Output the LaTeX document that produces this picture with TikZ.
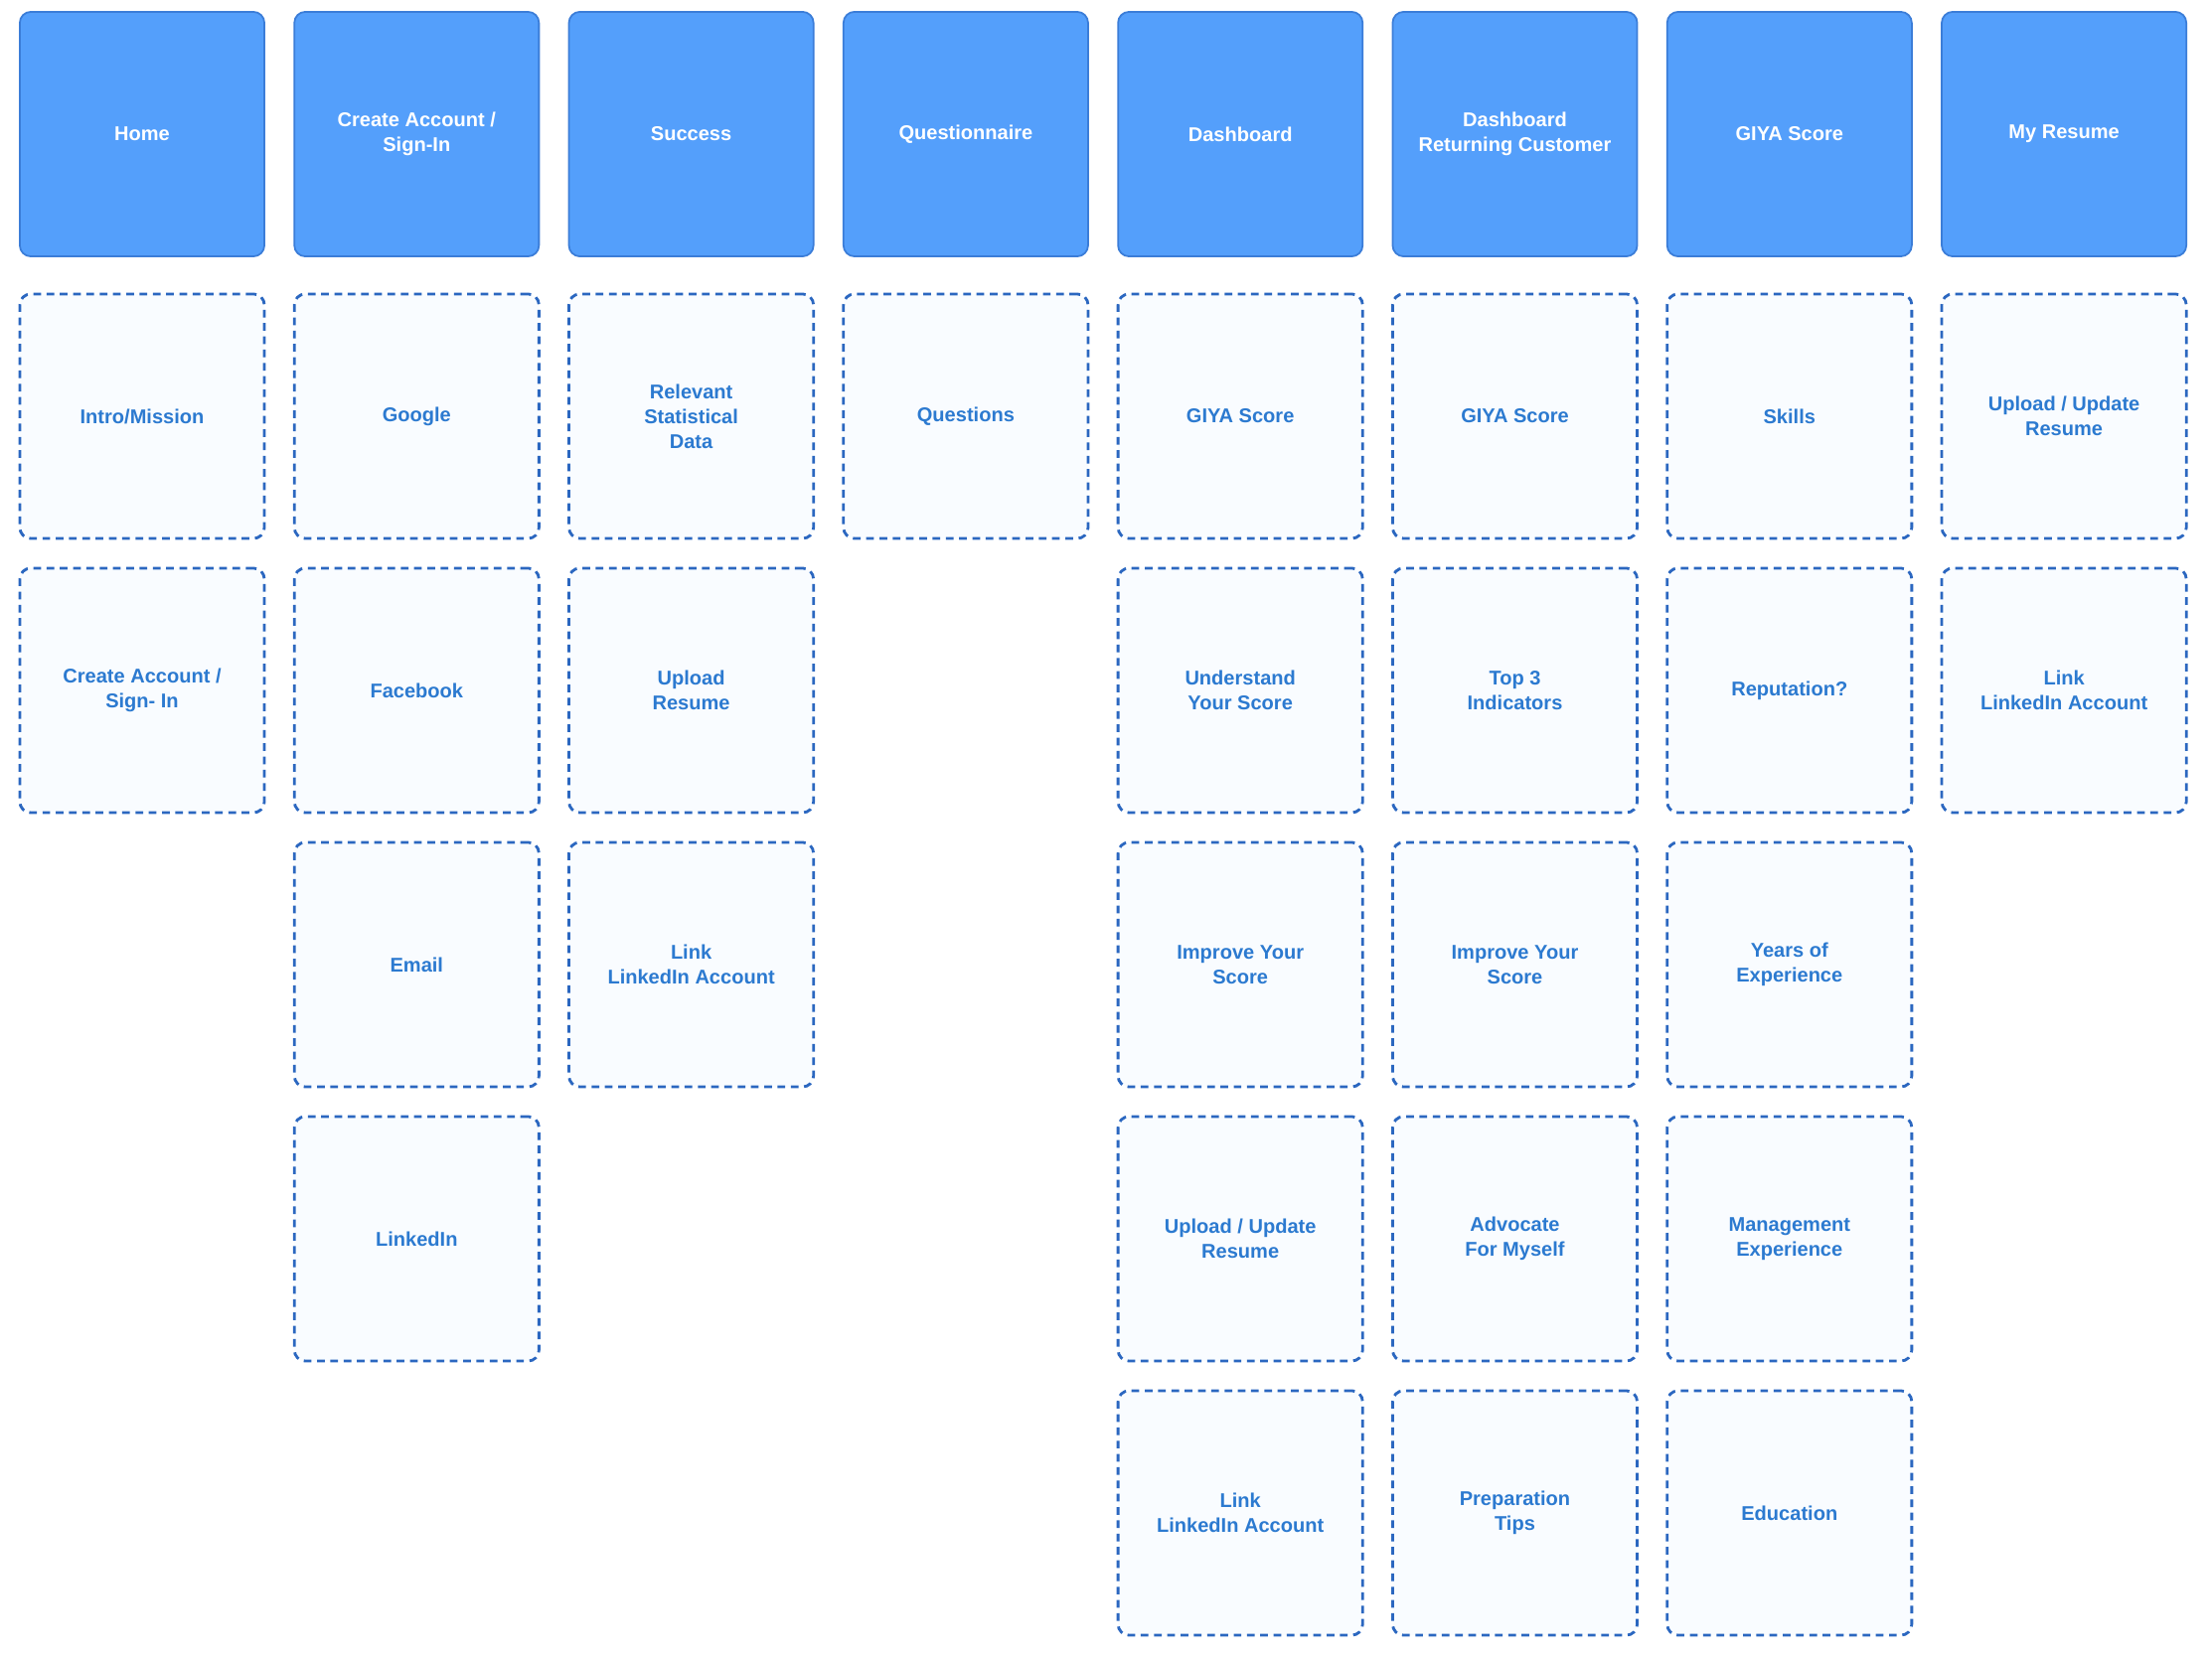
\documentclass[tikz,border=0pt]{standalone}
\usepackage{fontspec}
\setmainfont{Liberation Sans}
\definecolor{hdfill}{HTML}{549FFB}
\definecolor{hdline}{HTML}{3B7DD8}
\definecolor{dline}{HTML}{2B67C0}
\definecolor{dtext}{HTML}{2C7AD0}
\definecolor{dfill}{HTML}{F9FCFF}
\begin{document}
\begin{tikzpicture}[x=0.01cm,y=-0.01cm,
  hdr/.style={draw=hdline,fill=hdfill,rounded corners=1.1mm,minimum width=2.46cm,minimum height=2.46cm,
    text=white,font=\bfseries\fontsize{5.7}{7.1}\selectfont,align=center,inner sep=0pt,line width=0.5pt},
  itm/.style={draw=dline,fill=dfill,dashed,dash pattern=on 2.2pt off 1.6pt,rounded corners=1.1mm,minimum width=2.46cm,minimum height=2.46cm,
    text=dtext,font=\bfseries\fontsize{5.7}{7.1}\selectfont,align=center,inner sep=0pt,line width=0.8pt}]
\useasboundingbox (0,0) rectangle (2226,1670);
\def\cx#1{143+276.3*#1}
\def\ry#1{419+276*#1}
% headers
\foreach \t [count=\i from 0] in {Home,{Create Account /\\Sign-In},Success,Questionnaire,Dashboard,{Dashboard\\Returning Customer},GIYA Score,My Resume}
  \node[hdr] (h\i) at ({\cx{\i}},135) {\t};
% column 0
\node[itm] (a1) at ({\cx{0}},{\ry{0}}) {Intro/Mission};
\node[itm] (a2) at ({\cx{0}},{\ry{1}}) {Create Account /\\Sign- In};
% column 1
\node[itm] (b1) at ({\cx{1}},{\ry{0}}) {Google};
\node[itm] (b2) at ({\cx{1}},{\ry{1}}) {Facebook};
\node[itm] (b3) at ({\cx{1}},{\ry{2}}) {Email};
\node[itm] (b4) at ({\cx{1}},{\ry{3}}) {LinkedIn};
% column 2
\node[itm] (c1) at ({\cx{2}},{\ry{0}}) {Relevant\\Statistical\\Data};
\node[itm] (c2) at ({\cx{2}},{\ry{1}}) {Upload\\Resume};
\node[itm] (c3) at ({\cx{2}},{\ry{2}}) {Link\\LinkedIn Account};
% column 3
\node[itm] (d1) at ({\cx{3}},{\ry{0}}) {Questions};
% column 4
\node[itm] (e1) at ({\cx{4}},{\ry{0}}) {GIYA Score};
\node[itm] (e2) at ({\cx{4}},{\ry{1}}) {Understand\\Your Score};
\node[itm] (e3) at ({\cx{4}},{\ry{2}}) {Improve Your\\Score};
\node[itm] (e4) at ({\cx{4}},{\ry{3}}) {Upload / Update\\Resume};
\node[itm] (e5) at ({\cx{4}},{\ry{4}}) {Link\\LinkedIn Account};
% column 5
\node[itm] (f1) at ({\cx{5}},{\ry{0}}) {GIYA Score};
\node[itm] (f2) at ({\cx{5}},{\ry{1}}) {Top 3\\Indicators};
\node[itm] (f3) at ({\cx{5}},{\ry{2}}) {Improve Your\\Score};
\node[itm] (f4) at ({\cx{5}},{\ry{3}}) {Advocate\\For Myself};
\node[itm] (f5) at ({\cx{5}},{\ry{4}}) {Preparation\\Tips};
% column 6
\node[itm] (g1) at ({\cx{6}},{\ry{0}}) {Skills};
\node[itm] (g2) at ({\cx{6}},{\ry{1}}) {Reputation?};
\node[itm] (g3) at ({\cx{6}},{\ry{2}}) {Years of\\Experience};
\node[itm] (g4) at ({\cx{6}},{\ry{3}}) {Management\\Experience};
\node[itm] (g5) at ({\cx{6}},{\ry{4}}) {Education};
% column 7
\node[itm] (k1) at ({\cx{7}},{\ry{0}}) {Upload / Update\\Resume};
\node[itm] (k2) at ({\cx{7}},{\ry{1}}) {Link\\LinkedIn Account};
\end{tikzpicture}
\end{document}
